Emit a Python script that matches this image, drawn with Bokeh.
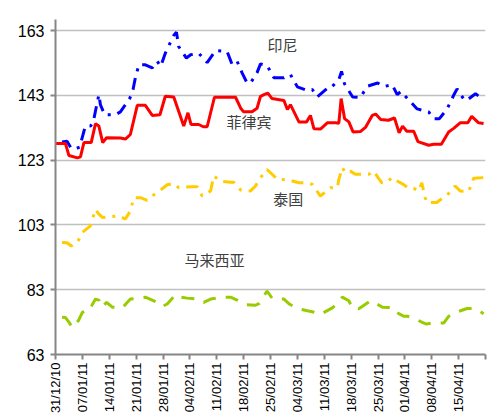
import math
from bokeh.plotting import figure
from bokeh.models import Range1d, FixedTicker, ColumnDataSource
from bokeh.core.properties import value
from bokeh.embed import file_html
from bokeh.resources import INLINE

# x = days since 31/12/10
tick_days = [0, 7, 14, 21, 28, 35, 42, 49, 56, 63, 70, 77, 84, 91, 98, 105, 112]
tick_labels = ["31/12/10", "07/01/11", "14/01/11", "21/01/11", "28/01/11", "04/02/11",
               "11/02/11", "18/02/11", "25/02/11", "04/03/11", "11/03/11", "18/03/11",
               "25/03/11", "01/04/11", "08/04/11", "15/04/11", ""]
y_ticks = [63, 83, 103, 123, 143, 163]

phil_x = [0.0, 2.6, 3.5, 5.7, 6.5, 7.4, 9.3, 10.4, 11.3, 12.3, 13.3, 16.9, 18.2, 19.5, 21.3, 23.4,
          25.2, 27.2, 28.6, 30.8, 32.1, 33.4, 34.5, 35.3, 37.3, 38.5, 39.5, 41.4, 46.9, 48.2, 49.0,
          51.2, 52.5, 53.4, 54.3, 55.3, 56.4, 59.5, 60.4, 61.2, 63.4, 65.4, 66.4, 67.3, 69.0, 70.8,
          72.9, 73.8, 74.4, 75.3, 76.4, 77.5, 79.4, 80.8, 82.5, 83.4, 84.7, 86.7, 88.3, 89.5, 90.4,
          91.5, 93.3, 94.4, 97.2, 98.5, 100.5, 102.4, 103.7, 105.4, 107.4, 108.4, 110.2, 111.5]
phil_y = [128.1, 128.1, 124.4, 123.7, 124.0, 128.4, 128.4, 134.2, 133.5, 128.4, 129.9, 129.8, 129.5,
          130.9, 139.9, 139.9, 136.8, 137.0, 142.7, 142.5, 138.0, 133.5, 137.6, 134.0, 134.0, 133.3,
          133.3, 142.4, 142.4, 139.1, 137.9, 137.9, 139.0, 142.7, 143.2, 143.7, 142.0, 141.4, 138.6,
          140.1, 134.8, 134.8, 136.8, 132.7, 132.6, 134.5, 134.5, 134.4, 142.0, 135.8, 134.8, 131.7,
          131.8, 133.2, 136.8, 137.2, 135.5, 135.3, 136.0, 131.4, 133.5, 131.9, 131.9, 128.7, 127.6,
          127.9, 127.9, 131.7, 132.8, 134.5, 134.5, 136.5, 134.5, 134.3]

indo_x = [1.7, 3.0, 4.1, 5.2, 6.3, 7.4, 7.8, 9.1, 9.8, 10.4, 11.3, 11.7, 12.8, 15.6, 16.9, 18.2,
          19.4, 20.2, 20.8, 21.7, 23.4, 25.2, 26.5, 27.4, 28.6, 30.8, 31.5, 32.1, 34.1, 35.2, 37.3,
          39.5, 41.7, 44.7, 46.0, 47.3, 48.6, 49.9, 50.8, 52.5, 53.4, 55.1, 56.9, 59.5, 61.2, 63.0,
          65.6, 66.9, 68.2, 70.8, 71.6, 73.8, 74.5, 75.3, 77.4, 79.4, 81.2, 83.9, 85.5, 87.7, 89.0,
          90.0, 91.9, 94.2, 97.2, 98.5, 100.0, 102.0, 103.7, 104.6, 106.5, 107.2, 109.4, 111.1]
indo_y = [128.6, 128.8, 126.6, 126.5, 127.0, 131.9, 133.5, 133.5, 134.5, 138.1, 143.2, 140.1, 137.0,
          137.0, 137.9, 140.1, 142.2, 144.8, 148.4, 152.4, 152.4, 151.5, 153.5, 151.9, 156.0, 161.5,
          162.5, 158.0, 154.5, 155.5, 156.0, 153.1, 156.8, 156.5, 152.5, 153.5, 149.9, 146.8, 146.8,
          150.0, 152.7, 152.2, 148.4, 148.4, 149.4, 145.6, 144.5, 144.8, 142.5, 145.2, 145.2, 147.8,
          150.4, 146.5, 142.5, 142.3, 145.8, 146.8, 145.7, 146.3, 143.2, 144.2, 141.7, 138.8, 137.9,
          135.8, 135.8, 138.8, 143.0, 145.0, 141.5, 141.5, 143.5, 142.0]

thai_x = [1.7, 3.0, 4.1, 5.7, 7.0, 9.1, 10.4, 11.3, 12.2, 13.9, 16.5, 18.2, 19.5, 20.4, 22.1, 23.9,
          25.6, 27.4, 29.1, 30.8, 32.1, 35.6, 36.9, 38.2, 40.4, 41.2, 43.0, 45.6, 46.4, 48.2, 50.8,
          52.1, 53.0, 55.1, 56.9, 57.7, 60.4, 63.4, 65.6, 66.9, 69.0, 71.6, 73.4, 73.8, 74.7, 75.5,
          76.8, 78.1, 81.6, 82.9, 84.2, 85.0, 86.3, 87.6, 88.0, 90.6, 92.0, 93.3, 94.6, 95.4, 96.3,
          96.7, 99.3, 101.5, 102.4, 104.1, 105.4, 107.6, 108.9, 111.5]
thai_y = [97.6, 97.5, 96.5, 97.6, 100.7, 102.7, 107.8, 106.3, 105.3, 105.5, 105.8, 104.8, 107.3, 111.4,
          111.4, 110.6, 112.3, 113.8, 115.4, 115.8, 114.5, 114.8, 114.8, 111.9, 113.5, 118.1, 116.5,
          116.2, 116.2, 113.8, 113.5, 115.0, 117.0, 120.1, 118.1, 117.0, 117.0, 116.0, 116.0, 115.5,
          111.9, 114.5, 114.5, 117.0, 120.7, 119.1, 119.6, 118.6, 118.6, 119.6, 117.3, 116.0, 116.0,
          117.6, 117.2, 115.5, 114.3, 114.3, 113.5, 116.0, 111.4, 109.9, 109.9, 111.9, 112.7, 115.0,
          113.5, 113.3, 117.4, 117.6]

malay_x = [1.7, 2.6, 3.5, 4.4, 6.0, 7.0, 7.8, 8.7, 10.4, 11.3, 12.2, 13.3, 14.8, 17.4, 19.5, 23.4,
           26.5, 27.8, 29.1, 31.3, 32.6, 34.3, 36.9, 38.6, 40.4, 43.4, 45.6, 47.3, 49.5, 52.1, 53.1,
           55.1, 56.4, 59.5, 61.0, 63.0, 65.6, 66.9, 69.0, 72.1, 73.2, 74.7, 76.4, 77.4, 79.0, 82.1,
           85.2, 88.0, 89.3, 90.7, 91.7, 94.2, 95.4, 96.6, 98.1, 101.1, 102.4, 104.2, 107.2, 109.4, 111.5]
malay_y = [74.5, 74.4, 73.0, 71.3, 73.5, 76.0, 76.5, 76.5, 80.1, 79.8, 77.6, 79.1, 77.6, 77.4, 80.1,
           80.7, 79.1, 77.8, 78.6, 81.5, 80.7, 80.4, 80.1, 79.1, 80.1, 80.7, 80.7, 79.8, 78.4, 78.2,
           78.8, 82.6, 80.4, 80.1, 78.5, 77.2, 76.5, 76.2, 75.4, 77.4, 78.5, 80.7, 79.6, 77.2, 77.1,
           79.6, 77.6, 77.5, 75.7, 74.8, 74.8, 73.7, 73.0, 72.4, 72.7, 72.7, 74.8, 76.0, 77.2, 77.2, 75.6]

names = ["印尼", "菲律宾", "泰国", "马来西亚"]
name_x = [59.1, 50.4, 60.6, 41.4]
name_y = [158.6, 134.8, 111.2, 92.4]

p = figure(width=491, height=416, x_range=Range1d(0, 112), y_range=Range1d(63, 166.4),
           output_backend="svg", toolbar_location=None,
           min_border_left=55, min_border_right=6, min_border_top=19, min_border_bottom=40)
p.outline_line_color = None
p.background_fill_color = "white"

p.line(indo_x, indo_y, line_color="#0000FF", line_width=3, line_dash="12 7 3 7")
p.line(thai_x, thai_y, line_color="#FFCC00", line_width=3, line_dash="12 7 3 7")
p.line(malay_x, malay_y, line_color="#99CC00", line_width=3, line_dash="13 10")
p.line(phil_x, phil_y, line_color="#FF0000", line_width=3)

src = ColumnDataSource(dict(x=name_x, y=name_y, t=names))
p.text(x="x", y="y", text="t", source=src, text_font=value("Noto Sans CJK SC"),
       text_font_size="15px", text_color="#404040", text_align="center", text_baseline="middle")

# axes
p.yaxis.ticker = FixedTicker(ticks=y_ticks)
p.yaxis.major_label_text_font = "Liberation Sans"
p.yaxis.major_label_text_font_size = "16px"
p.yaxis.major_label_text_color = "black"
p.yaxis.major_label_standoff = 6
p.yaxis.axis_line_color = "#868686"
p.yaxis.axis_line_width = 2
p.yaxis.major_tick_line_color = "#868686"
p.yaxis.major_tick_line_width = 2
p.yaxis.major_tick_out = 5
p.yaxis.major_tick_in = 0
p.yaxis.minor_tick_line_color = None

p.xaxis.ticker = FixedTicker(ticks=tick_days)
p.xaxis.major_label_overrides = {d: l for d, l in zip(tick_days, tick_labels)}
p.xaxis.major_label_orientation = math.pi / 2
p.xaxis.major_label_text_font = "Liberation Sans"
p.xaxis.major_label_text_font_size = "13px"
p.xaxis.major_label_text_color = "black"
p.xaxis.major_label_standoff = 3
p.xaxis.axis_line_color = "#868686"
p.xaxis.axis_line_width = 2
p.xaxis.major_tick_line_color = "#868686"
p.xaxis.major_tick_line_width = 2
p.xaxis.major_tick_out = 5
p.xaxis.major_tick_in = 0
p.xaxis.minor_tick_line_color = None

p.xgrid.grid_line_color = None
p.ygrid.grid_line_color = "#C0C0C0"
p.ygrid.grid_line_width = 1.5
p.ygrid.ticker = FixedTicker(ticks=[83, 103, 123, 143, 163])

open("out.html", "w").write(file_html(p, INLINE))
